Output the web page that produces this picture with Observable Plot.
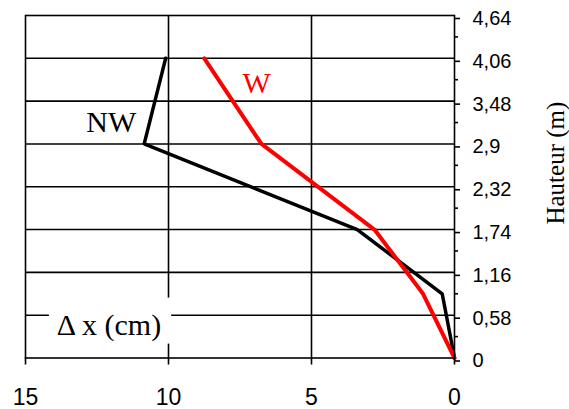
<!DOCTYPE html>
<html><head><meta charset="utf-8">
<script src="https://cdn.jsdelivr.net/npm/d3@7"></script>
<script src="https://cdn.jsdelivr.net/npm/@observablehq/plot@0.6"></script>
<style>body{margin:0;background:#fff}</style>
</head><body><div id="chart"></div>
<script>
// Heights (m) and horizontal displacement Δx (cm)
const heightsNW = [0, 0.87, 1.74, 2.9, 4.06];
const dxNW = [0, 0.43, 3.4, 10.85, 10.1];
const heightsW = [0, 0.87, 1.74, 2.9, 4.06];
const dxW = [0, 1.1, 2.8, 6.75, 8.75];
const xTicks = [15, 10, 5, 0];
const yTicks = [0, 0.58, 1.16, 1.74, 2.32, 2.9, 3.48, 4.06, 4.64];
const yMinorTicks = [0.29, 0.87, 1.45, 2.03, 2.61, 3.19, 3.77, 4.35];
const seriesLabels = ["NW", "W"];
const xLabel = "Δ x (cm)";
const yLabel = "Hauteur (m)";

const nw = heightsNW.map((h, i) => ({h, d: dxNW[i]}));
const w = heightsW.map((h, i) => ({h, d: dxW[i]}));
const fmt = v => String(v).replace(".", ",");
const serif = "'Liberation Serif', 'DejaVu Serif', 'Times New Roman', serif";
const sans = "'Liberation Sans', Arial, sans-serif";

const plot = Plot.plot({
  width: 569, height: 409,
  marginLeft: 25, marginRight: 115, marginTop: 15, marginBottom: 51.5,
  style: {background: "#fff", color: "#000", fontFamily: sans},
  x: {domain: [15, 0]},
  y: {domain: [0, 4.64]},
  marks: [
    Plot.ruleY(yTicks.slice(1, -1), {stroke: "#000", strokeWidth: 1.6}),
    Plot.ruleX(xTicks.slice(1, -1), {stroke: "#000", strokeWidth: 1.6}),
    Plot.text([xLabel], {x: 12.08, y: 0.447, text: d => d, fontSize: 30, fontFamily: serif, fill: "#000", lineAnchor: "middle"}),
    Plot.line(nw, {x: "d", y: "h", stroke: "#000", strokeWidth: 3.5, strokeLinejoin: "miter"}),
    Plot.line(w, {x: "d", y: "h", stroke: "#f00", strokeWidth: 4, strokeLinejoin: "miter"}),
    Plot.text([seriesLabels[0]], {x: 12.0, y: 3.19, text: d => d, fontSize: 30, fontFamily: serif, fill: "#000", lineAnchor: "middle"}),
    Plot.text([seriesLabels[1]], {x: 6.92, y: 3.72, text: d => d, fontSize: 30, fontFamily: serif, fill: "#f00", lineAnchor: "middle"}),
    Plot.frame({stroke: "#000", strokeWidth: 1.6}),
    Plot.axisX(xTicks, {anchor: "bottom", tickSize: 7, tickPadding: 24, tickFormat: fmt, fontSize: 23, strokeWidth: 1.6, label: null}),
    Plot.axisY(yTicks, {anchor: "right", tickSize: 5, tickPadding: 13, tickFormat: fmt, fontSize: 20, dy: 3, strokeWidth: 1.6, label: null}),
    Plot.axisY(yMinorTicks, {anchor: "right", tickSize: 3, tickFormat: () => "", strokeWidth: 1.6, label: null}),
    Plot.text([yLabel], {frameAnchor: "right", y: 2.64, text: d => d, rotate: -90, dx: 101, textAnchor: "middle", lineAnchor: "middle", fontSize: 25, fontFamily: serif, fill: "#000"})
  ]
});
document.getElementById("chart").append(plot);

// serif font for the annotation texts
const serifTexts = new Set([xLabel, yLabel, ...seriesLabels]);
plot.querySelectorAll("text").forEach(e => {
  if (serifTexts.has(e.textContent)) e.style.fontFamily = serif;
});

// white background box behind the Δx label (hides gridlines)
const t = [...plot.querySelectorAll("text")].find(e => e.textContent === xLabel);
if (t) {
  const bb = t.getBBox();
  const r = document.createElementNS("http://www.w3.org/2000/svg", "rect");
  r.setAttribute("x", bb.x - 8);
  r.setAttribute("y", bb.y - 10);
  r.setAttribute("width", bb.width + 18);
  r.setAttribute("height", bb.height + 12);
  r.setAttribute("fill", "#fff");
  const tr = t.getAttribute("transform");
  if (tr) r.setAttribute("transform", tr);
  t.parentNode.insertBefore(r, t);
}
</script>
</body></html>
